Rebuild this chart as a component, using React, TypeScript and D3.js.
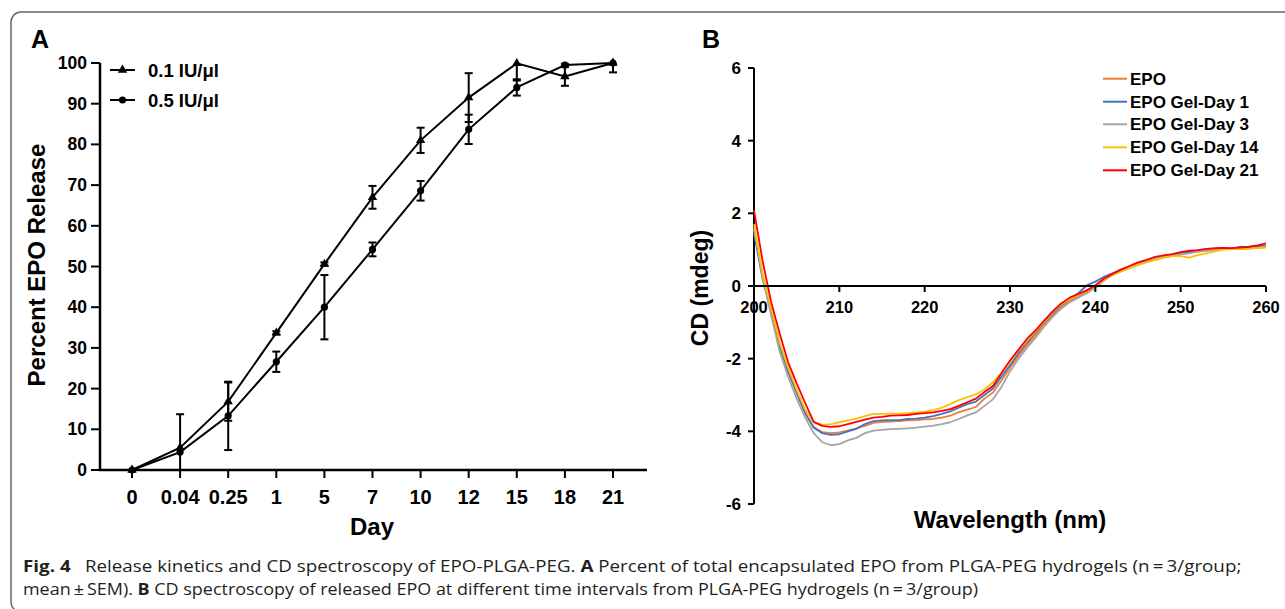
import React, { useLayoutEffect, useRef, useState } from 'react';
import * as d3 from 'd3';

const W = 1285;
const H = 609;

// ---------- Panel A data ----------
const dayLabels = ['0', '0.04', '0.25', '1', '5', '7', '10', '12', '15', '18', '21'];
const release01 = [0, 5.5, 16.8, 33.7, 50.6, 67.0, 81.0, 91.5, 99.9, 96.7, 100];
const sem01 = [0, 0, 4.7, 0.4, 0.4, 2.8, 3.1, 6.0, 4.2, 2.3, 2.3];
const release05 = [0, 4.4, 13.3, 26.6, 40.0, 54.2, 68.6, 83.7, 94.0, 99.5, 100];
const sem05 = [0, 9.3, 8.4, 2.5, 7.9, 1.7, 2.4, 3.6, 2.0, 0.3, 0.3];
const yTicksA = [0, 10, 20, 30, 40, 50, 60, 70, 80, 90, 100];
const legendA = ['0.1 IU/μl', '0.5 IU/μl'];

// ---------- Panel B data ----------
const wavelengths = [
  200, 201, 202, 203, 204, 205, 206, 207, 208, 209,
  210, 211, 212, 213, 214, 215, 216, 217, 218, 219,
  220, 221, 222, 223, 224, 225, 226, 227, 228, 229,
  230, 231, 232, 233, 234, 235, 236, 237, 238, 239,
  240, 241, 242, 243, 244, 245, 246, 247, 248, 249,
  250, 251, 252, 253, 254, 255, 256, 257, 258, 259, 260,
];
const cdEPO = [
  1.55, 0.26, -0.72, -1.65, -2.35, -2.92, -3.5, -3.88, -4.02, -4.05,
  -4.03, -3.98, -3.92, -3.85, -3.77, -3.74, -3.73, -3.72, -3.7, -3.69,
  -3.67, -3.66, -3.62, -3.57, -3.47, -3.4, -3.33, -3.1, -2.93, -2.6,
  -2.25, -1.92, -1.62, -1.35, -1.05, -0.8, -0.58, -0.4, -0.28, -0.15,
  -0.02, 0.15, 0.3, 0.4, 0.5, 0.58, 0.66, 0.72, 0.78, 0.83,
  0.87, 0.92, 0.95, 0.97, 1.0, 1.02, 1.03, 1.03, 1.05, 1.08, 1.1,
];
const cdDay1 = [
  1.45, 0.2, -0.7, -1.65, -2.35, -2.95, -3.5, -3.9, -4.05, -4.1,
  -4.08, -4.0, -3.93, -3.8, -3.72, -3.7, -3.69, -3.69, -3.66, -3.65,
  -3.62, -3.58, -3.52, -3.45, -3.35, -3.25, -3.18, -3.0, -2.82, -2.5,
  -2.18, -1.85, -1.55, -1.28, -1.0, -0.75, -0.52, -0.35, -0.2, 0.02,
  0.12, 0.25, 0.35, 0.45, 0.53, 0.6, 0.68, 0.75, 0.8, 0.85,
  0.9, 0.94, 0.97, 1.0, 1.02, 1.04, 1.03, 1.08, 1.07, 1.09, 1.12,
];
const cdDay3 = [
  1.6, 0.25, -0.8, -1.8, -2.5, -3.1, -3.62, -4.05, -4.3, -4.38,
  -4.35, -4.25, -4.18, -4.05, -3.98, -3.96, -3.94, -3.93, -3.92, -3.9,
  -3.87, -3.84, -3.8, -3.75, -3.66, -3.56, -3.48, -3.3, -3.12, -2.78,
  -2.35, -2.0, -1.7, -1.42, -1.12, -0.85, -0.62, -0.45, -0.32, -0.2,
  -0.05, 0.15, 0.3, 0.42, 0.52, 0.6, 0.68, 0.74, 0.8, 0.85,
  0.88, 0.9, 0.95, 0.98, 1.0, 1.02, 1.03, 1.02, 1.03, 1.05, 1.08,
];
const cdDay14 = [
  1.7, 0.35, -0.6, -1.55, -2.25, -2.85, -3.4, -3.75, -3.82, -3.8,
  -3.75, -3.7, -3.65, -3.58, -3.52, -3.52, -3.51, -3.51, -3.5, -3.48,
  -3.46, -3.42, -3.35, -3.25, -3.14, -3.06, -2.98, -2.85, -2.65, -2.38,
  -2.08, -1.78, -1.5, -1.25, -0.98, -0.72, -0.5, -0.35, -0.25, -0.12,
  0.0, 0.18, 0.3, 0.4, 0.5, 0.58, 0.65, 0.72, 0.78, 0.82,
  0.82, 0.78, 0.85, 0.9, 0.95, 1.0, 1.02, 1.02, 1.03, 1.04, 1.06,
];
const cdDay21 = [
  2.09, 0.7, -0.43, -1.3, -2.1, -2.68, -3.22, -3.74, -3.85, -3.88,
  -3.86, -3.8, -3.74, -3.68, -3.62, -3.6, -3.57, -3.56, -3.55, -3.52,
  -3.5, -3.48, -3.44, -3.39, -3.3, -3.2, -3.1, -2.92, -2.75, -2.4,
  -2.05, -1.75, -1.45, -1.22, -0.95, -0.7, -0.48, -0.32, -0.22, -0.12,
  0.02, 0.2, 0.33, 0.45, 0.55, 0.65, 0.72, 0.8, 0.84, 0.88,
  0.93, 0.97, 0.99, 1.02, 1.04, 1.05, 1.04, 1.06, 1.08, 1.12, 1.17,
];
const cdNames = ['EPO', 'EPO Gel-Day 1', 'EPO Gel-Day 3', 'EPO Gel-Day 14', 'EPO Gel-Day 21'];
const cdValues = [cdEPO, cdDay1, cdDay3, cdDay14, cdDay21];
const cdColors = ['#ED7D31', '#4472C4', '#A5A5A5', '#FFC000', '#FF0000'];
const xTicksB = [200, 210, 220, 230, 240, 250, 260];
const yTicksB = [-6, -4, -2, 0, 2, 4, 6];

const FONT = "'Liberation Sans', Arial, Helvetica, sans-serif";
const CAP_FONT = "'Open Sans', 'Noto Sans', sans-serif";

function Caption() {
  const ref1 = useRef<SVGTextElement | null>(null);
  const ref2 = useRef<SVGTextElement | null>(null);
  const [sx1, setSx1] = useState(1);
  const [sx2, setSx2] = useState(1);
  useLayoutEffect(() => {
    if (ref1.current) {
      const w = ref1.current.getComputedTextLength();
      if (w > 0) setSx1(1219 / w);
    }
    if (ref2.current) {
      const w = ref2.current.getComputedTextLength();
      if (w > 0) setSx2(956 / w);
    }
  }, []);
  const fill = '#231f20';
  return (
    <g fontFamily={CAP_FONT} fontSize={15.5} fill={fill}>
      <g transform={`translate(23,0) scale(${sx1},1)`}>
        <text ref={ref1} x={0} y={572}>
          <tspan fontWeight="bold">Fig. 4</tspan>
          <tspan>{'\u2002 Release kinetics and CD spectroscopy of EPO-PLGA-PEG. '}</tspan>
          <tspan fontWeight="bold">A</tspan>
          <tspan>{' Percent of total encapsulated EPO from PLGA-PEG hydrogels (n\u2009=\u20093/group;'}</tspan>
        </text>
      </g>
      <g transform={`translate(23,0) scale(${sx2},1)`}>
        <text ref={ref2} x={0} y={595}>
          <tspan>{'mean\u2009±\u2009SEM). '}</tspan>
          <tspan fontWeight="bold">B</tspan>
          <tspan>{' CD spectroscopy of released EPO at different time intervals from PLGA-PEG hydrogels (n\u2009=\u20093/group)'}</tspan>
        </text>
      </g>
    </g>
  );
}

function PanelA() {
  const x = d3.scalePoint<string>().domain(dayLabels).range([132, 613]);
  const y = d3.scaleLinear().domain([0, 100]).range([470, 63]);
  const clamp = (v: number) => Math.max(0, Math.min(100, v));
  const line = d3
    .line<number>()
    .x((_, i) => x(dayLabels[i]) as number)
    .y((d) => y(d));
  const tri = d3.symbol().type(d3.symbolTriangle).size(38)() as string;

  const series = [
    { vals: release01, sem: sem01, marker: 'tri' },
    { vals: release05, sem: sem05, marker: 'circ' },
  ];

  return (
    <g fontFamily={FONT} fontWeight="bold" fill="#000">
      <text x={31} y={48} fontSize={25}>A</text>
      <line x1={100} x2={100} y1={y(100)} y2={y(0) + 1} stroke="#000" strokeWidth={2.5} />
      <line x1={99} x2={647} y1={y(0)} y2={y(0)} stroke="#000" strokeWidth={2.5} />
      {yTicksA.map((t) => (
        <g key={t}>
          <line x1={91} x2={100} y1={y(t)} y2={y(t)} stroke="#000" strokeWidth={2} />
          <text x={87} y={y(t) + 6} fontSize={17.5} textAnchor="end">{t}</text>
        </g>
      ))}
      {dayLabels.map((d) => (
        <g key={d}>
          <line x1={x(d)} x2={x(d)} y1={y(0)} y2={y(0) + 8} stroke="#000" strokeWidth={2} />
          <text x={x(d)} y={504} fontSize={20} textAnchor="middle">{d}</text>
        </g>
      ))}
      <text x={372} y={535} fontSize={24} textAnchor="middle">Day</text>
      <text transform="translate(45,265) rotate(-90)" fontSize={24} textAnchor="middle">Percent EPO Release</text>

      {series.map((s, si) => (
        <g key={si}>
          <path d={line(s.vals) as string} fill="none" stroke="#000" strokeWidth={2} />
          {s.vals.map((v, i) => {
            if (!s.sem[i]) return null;
            const cx = x(dayLabels[i]) as number;
            const top = y(clamp(v + s.sem[i]));
            const bot = y(clamp(v - s.sem[i]));
            return (
              <g key={i} stroke="#000" strokeWidth={2}>
                <line x1={cx} x2={cx} y1={top} y2={bot} />
                {v + s.sem[i] <= 100 && <line x1={cx - 4} x2={cx + 4} y1={top} y2={top} />}
                {v - s.sem[i] >= 0 && <line x1={cx - 4} x2={cx + 4} y1={bot} y2={bot} />}
              </g>
            );
          })}
          {s.vals.map((v, i) => {
            const cx = x(dayLabels[i]) as number;
            return s.marker === 'tri' ? (
              <path key={i} d={tri} transform={`translate(${cx},${y(v)})`} fill="#000" />
            ) : (
              <circle key={i} cx={cx} cy={y(v)} r={3.6} fill="#000" />
            );
          })}
        </g>
      ))}

      {legendA.map((name, i) => {
        const ly = i === 0 ? 70 : 100;
        return (
          <g key={name}>
            <line x1={110} x2={135} y1={ly} y2={ly} stroke="#000" strokeWidth={2} />
            {i === 0 ? (
              <path d={tri} transform={`translate(122.5,${ly})`} fill="#000" />
            ) : (
              <circle cx={122.5} cy={ly} r={3.6} fill="#000" />
            )}
            <text x={148} y={ly + 7} fontSize={18.5}>{name}</text>
          </g>
        );
      })}
    </g>
  );
}

function PanelB() {
  const x = d3.scaleLinear().domain([200, 260]).range([754, 1266]);
  const y = d3.scaleLinear().domain([-6, 6]).range([504, 68]);
  const line = d3
    .line<number>()
    .x((_, i) => x(wavelengths[i]))
    .y((d) => y(d));
  return (
    <g fontFamily={FONT} fontWeight="bold" fill="#000">
      <text x={702} y={48} fontSize={25}>B</text>
      <line x1={754} x2={754} y1={y(6)} y2={y(-6)} stroke="#000" strokeWidth={2} />
      {yTicksB.map((t) => (
        <g key={t}>
          <line x1={748} x2={754} y1={y(t)} y2={y(t)} stroke="#000" strokeWidth={2} />
          <text x={741} y={y(t) + 6} fontSize={17} textAnchor="end">{t}</text>
        </g>
      ))}
      {cdValues.map((vals, k) => (
        <path key={k} d={line(vals) as string} fill="none" stroke={cdColors[k]} strokeWidth={1.8} strokeLinejoin="round" />
      ))}
      <line x1={754} x2={1266} y1={y(0)} y2={y(0)} stroke="#000" strokeWidth={2} />
      {xTicksB.map((t) => (
        <g key={t}>
          <line x1={x(t)} x2={x(t)} y1={y(0)} y2={y(0) + 6} stroke="#000" strokeWidth={2} />
          <text x={x(t)} y={313} fontSize={16.5} textAnchor="middle">{t}</text>
        </g>
      ))}
      <text x={1010} y={528} fontSize={24} textAnchor="middle">Wavelength (nm)</text>
      <text transform="translate(708,288) rotate(-90)" fontSize={23} textAnchor="middle">CD (mdeg)</text>
      {cdNames.map((name, k) => {
        const ly = [78.7, 101.7, 124.3, 147.3, 170.3][k];
        return (
          <g key={name}>
            <line x1={1103} x2={1127} y1={ly} y2={ly} stroke={cdColors[k]} strokeWidth={2} />
            <text x={1130} y={ly + 6} fontSize={17}>{name}</text>
          </g>
        );
      })}
    </g>
  );
}

export default function App() {
  return (
    <svg
      width={W}
      height={H}
      viewBox={`0 0 ${W} ${H}`}
      style={{ position: 'absolute', left: 0, top: 0, background: '#fff' }}
    >
      <rect x={0} y={0} width={W} height={H} fill="#fff" />
      <rect x={11} y={12} width={1300} height={600} rx={10} ry={10} fill="none" stroke="#666" strokeWidth={1.5} />
      <PanelA />
      <PanelB />
      <Caption />
    </svg>
  );
}
